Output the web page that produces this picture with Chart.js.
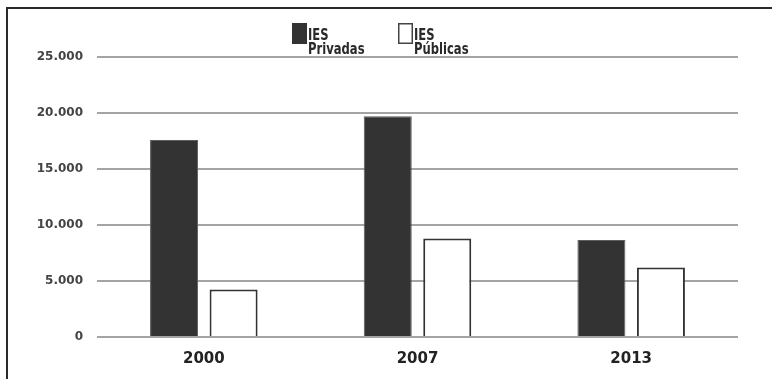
<!DOCTYPE html>
<html>
<head>
<meta charset="utf-8">
<script src="https://cdn.jsdelivr.net/npm/chart.js@4"></script>
<style>
  html, body { margin: 0; padding: 0; background: #fff; }
  #wrap { position: relative; width: 772px; height: 379px; }
</style>
</head>
<body>
<div id="wrap"><canvas id="chart" width="772" height="379"></canvas></div>
<script>
const years = ['2000', '2007', '2013'];
const privadas = [17600, 19700, 8650];
const publicas = [4250, 8800, 6200];
const legendLines = [['IES', 'Privadas'], ['IES', 'Públicas']];

// frame on the top and left edges, plus the two-line legend above the plot
const framePlugin = {
    id: 'frameAndLegend',
    beforeDraw: function (chart) {
        const ctx = chart.ctx;
        ctx.save();
        ctx.fillStyle = '#2b2b2b';
        ctx.fillRect(6, 7, 766, 2);
        ctx.fillRect(6, 7, 2, 372);
        ctx.restore();
    },
    afterDraw: function (chart) {
        const ctx = chart.ctx;
        const spots = [292, 398];
        ctx.save();
        chart.data.datasets.forEach(function (ds, i) {
            const x = spots[i];
            ctx.fillStyle = ds.backgroundColor;
            ctx.fillRect(x, 23, 15, 21);
            if (ds.backgroundColor === '#ffffff') {
                ctx.strokeStyle = '#444';
                ctx.lineWidth = 1.5;
                ctx.strokeRect(x + 0.75, 23.75, 13.5, 19.5);
            }
            ctx.fillStyle = '#2a2a2a';
            ctx.font = 'bold 14px "DejaVu Sans Condensed", "Liberation Sans Narrow", sans-serif';
            ctx.textBaseline = 'alphabetic';
            ctx.textAlign = 'left';
            ds.label.forEach(function (line, j) {
                // slightly tall, narrow lettering
                ctx.save();
                ctx.translate(x + 16, 40 + j * 14);
                ctx.scale(0.92, 1.12);
                ctx.fillText(line, 0, 0);
                ctx.restore();
            });
        });
        ctx.restore();
    }
};

new Chart(document.getElementById('chart'), {
    type: 'bar',
    data: {
        labels: years,
        datasets: [
            {
                label: legendLines[0],
                data: privadas,
                backgroundColor: '#333333',
                borderColor: '#5e5e5e',
                borderWidth: 1,
                categoryPercentage: 0.557,
                barPercentage: 0.807
            },
            {
                label: legendLines[1],
                data: publicas,
                backgroundColor: '#ffffff',
                borderColor: '#333333',
                borderWidth: 2,
                categoryPercentage: 0.557,
                barPercentage: 0.807
            }
        ]
    },
    options: {
        responsive: false,
        animation: false,
        devicePixelRatio: 1,
        layout: { padding: { top: 57, right: 34, left: 0, bottom: 0 } },
        plugins: {
            legend: { display: false },
            tooltip: { enabled: false }
        },
        scales: {
            x: {
                grid: { display: false },
                border: { display: false },
                ticks: {
                    color: '#222',
                    padding: 5,
                    font: { family: '"DejaVu Sans", sans-serif', size: 15, weight: 'bold' }
                },
                afterFit: function (scale) { scale.height = 42; }
            },
            y: {
                min: 0,
                max: 25000,
                grid: { color: '#a4a4a4', lineWidth: 2, drawTicks: false },
                border: { display: false },
                ticks: {
                    stepSize: 5000,
                    padding: 14,
                    color: '#444',
                    font: { family: '"DejaVu Sans", sans-serif', size: 12, weight: 'bold' },
                    callback: function (v) { return v.toLocaleString('pt-BR'); }
                },
                afterFit: function (scale) { scale.width = 97; }
            }
        }
    },
    plugins: [framePlugin]
});
</script>
</body>
</html>
